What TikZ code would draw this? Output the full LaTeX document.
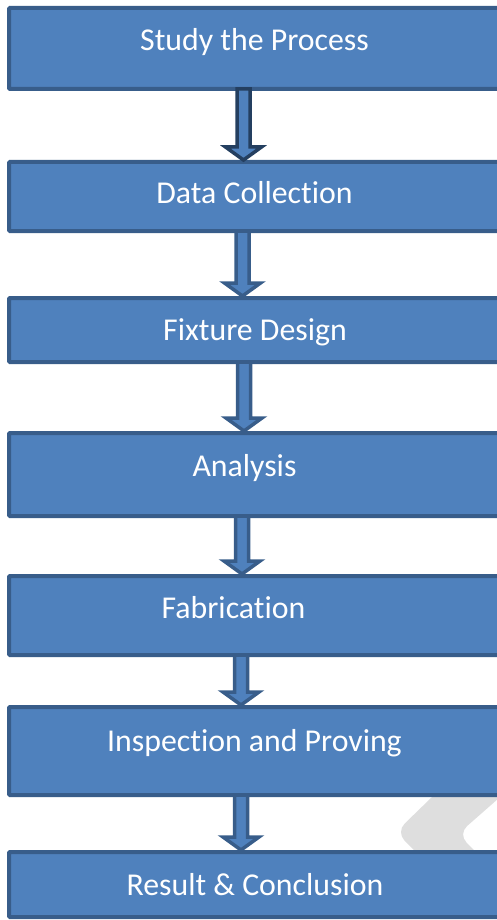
\documentclass[tikz,border=0pt]{standalone}
\usepackage{fontspec}
\setmainfont{Carlito}[Ligatures=NoCommon]
\usetikzlibrary{calc}
\definecolor{boxfill}{HTML}{4F81BD}
\definecolor{boxline}{HTML}{385D8A}
\definecolor{darkline}{HTML}{243F60}
\definecolor{wmark}{HTML}{DEDEDE}
\tikzset{
  box/.style={draw=boxline, fill=boxfill, line width=4pt, rectangle, inner sep=0pt, minimum width=511pt, rounded corners=1pt},
  lbl/.style={text=white, anchor=base, inner sep=0pt, font=\fontsize{31.8}{38}\selectfont},
  barrowstyle/.style={draw=boxline, fill=boxfill, line width=3.5pt, line join=miter},
}
\newcommand{\blockarrow}[3][]{%
  \draw[barrowstyle,#1] let \p1=(#2), \p2=(#3) in
    (\x1-6.5pt,\y1) -- (\x1-6.5pt,\y2+13pt) -- (\x1-18pt,\y2+13pt) -- (\x2,\y2)
    -- (\x1+18pt,\y2+13pt) -- (\x1+6.5pt,\y2+13pt) -- (\x1+6.5pt,\y1) -- cycle;}
\begin{document}
\begin{tikzpicture}[x=1pt,y=-1pt]
\useasboundingbox (0,0) rectangle (497,920);
\clip (0,0) rectangle (497,920);
% watermark chevron
\fill[wmark, rounded corners=12pt] (468,762) -- (540,762) -- (458,834) -- (520,896) -- (460,896) -- (396,832) -- cycle;
% boxes
\node[box, minimum height=81pt] (b1) at (264.5,48.5) {};
\node[box, minimum height=69pt] (b2) at (264.5,196.5) {};
\node[box, minimum height=64pt] (b3) at (264.5,330) {};
\node[box, minimum height=83pt] (b4) at (264.5,474.5) {};
\node[box, minimum height=79pt] (b5) at (264.5,615.5) {};
\node[box, minimum height=88pt] (b6) at (264.5,751) {};
\node[box, minimum height=65pt] (b7) at (264.5,884.5) {};
% labels
\node[lbl] (t1) at (254.5,51) {Study the Process};
\node[lbl] (t2) at (254.5,204) {Data Collection};
\node[lbl] (t3) at (255,340) {Fixture Design};
\node[lbl] (t4) at (244.5,476) {Analysis};
\node[lbl] (t5) at (233.5,618) {Fabrication};
\node[lbl] (t6) at (254.5,751) {Inspection and Proving};
\node[lbl] (t7) at (255,895) {Result \& Conclusion};
% arrows
\blockarrow[draw=darkline]{$(b1.south)+(-21,-2)$}{$(b2.north)+(-21,0)$}
\blockarrow{$(b2.south)+(-22,-2)$}{$(b3.north)+(-22,0)$}
\blockarrow{$(b3.south)+(-20.5,-2)$}{$(b4.north)+(-20.5,0)$}
\blockarrow{$(b4.south)+(-22.5,-2)$}{$(b5.north)+(-22.5,0)$}
\blockarrow{$(b5.south)+(-23.5,-2)$}{$(b6.north)+(-23.5,0)$}
\blockarrow{$(b6.south)+(-23.5,-2)$}{$(b7.north)+(-23.5,0)$}
\end{tikzpicture}
\end{document}
